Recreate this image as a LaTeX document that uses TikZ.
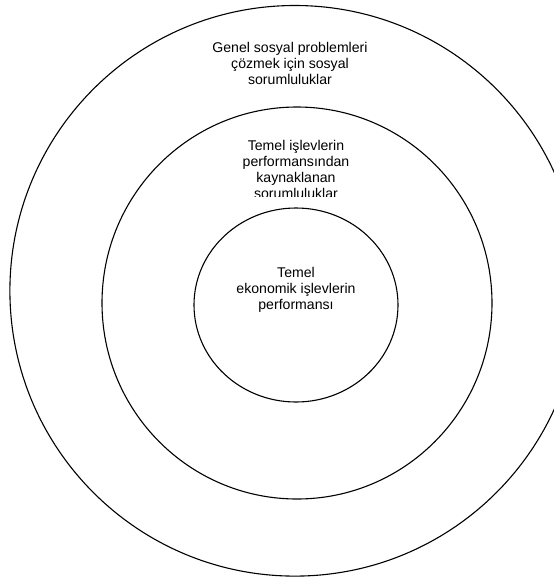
\documentclass[tikz,border=0pt]{standalone}
\usepackage{fontspec}
\setmainfont{Liberation Sans}
\usetikzlibrary{shapes.geometric}
\tikzset{
  ring/.style={draw=black, line width=1.1pt, ellipse, inner sep=0pt},
  label/.style={font=\fontsize{14.1}{16.3}\selectfont, inner sep=0pt, anchor=base}
}
\begin{document}
\begin{tikzpicture}[x=1pt,y=-1pt]
\useasboundingbox (0,0) rectangle (554,579);
\begin{scope}
  \clip (0,0) rectangle (554,579);
  % three concentric rings
  \node[ring, minimum width=570pt, minimum height=570.6pt] (outer) at (294.9,290.8) {};
  \node[ring, minimum width=390pt, minimum height=392pt] (middle) at (297,303) {};
  \node[ring, minimum width=204pt, minimum height=194pt] (inner) at (296,305) {};
\end{scope}
% outer ring caption
\node[label] (o1) at (290,52) {Genel sosyal problemleri};
\node[label] (o2) at (290,68.3) {çözmek için sosyal};
\node[label] (o3) at (290,84.6) {sorumluluklar};
% middle ring caption, its text box cuts the last line
\begin{scope}
  \clip (200,130) rectangle (395,196.5);
  \node[label] (m1) at (296,150) {Temel işlevlerin};
  \node[label] (m2) at (296,166.3) {performansından};
  \node[label] (m3) at (296,182.6) {kaynaklanan};
  \node[label] (m4) at (296,198.9) {sorumluluklar};
\end{scope}
% inner ring caption
\node[label] (i1) at (296,277) {Temel};
\node[label] (i2) at (296,293.3) {ekonomik işlevlerin};
\node[label] (i3) at (296,309.6) {performansı};
\end{tikzpicture}
\end{document}
